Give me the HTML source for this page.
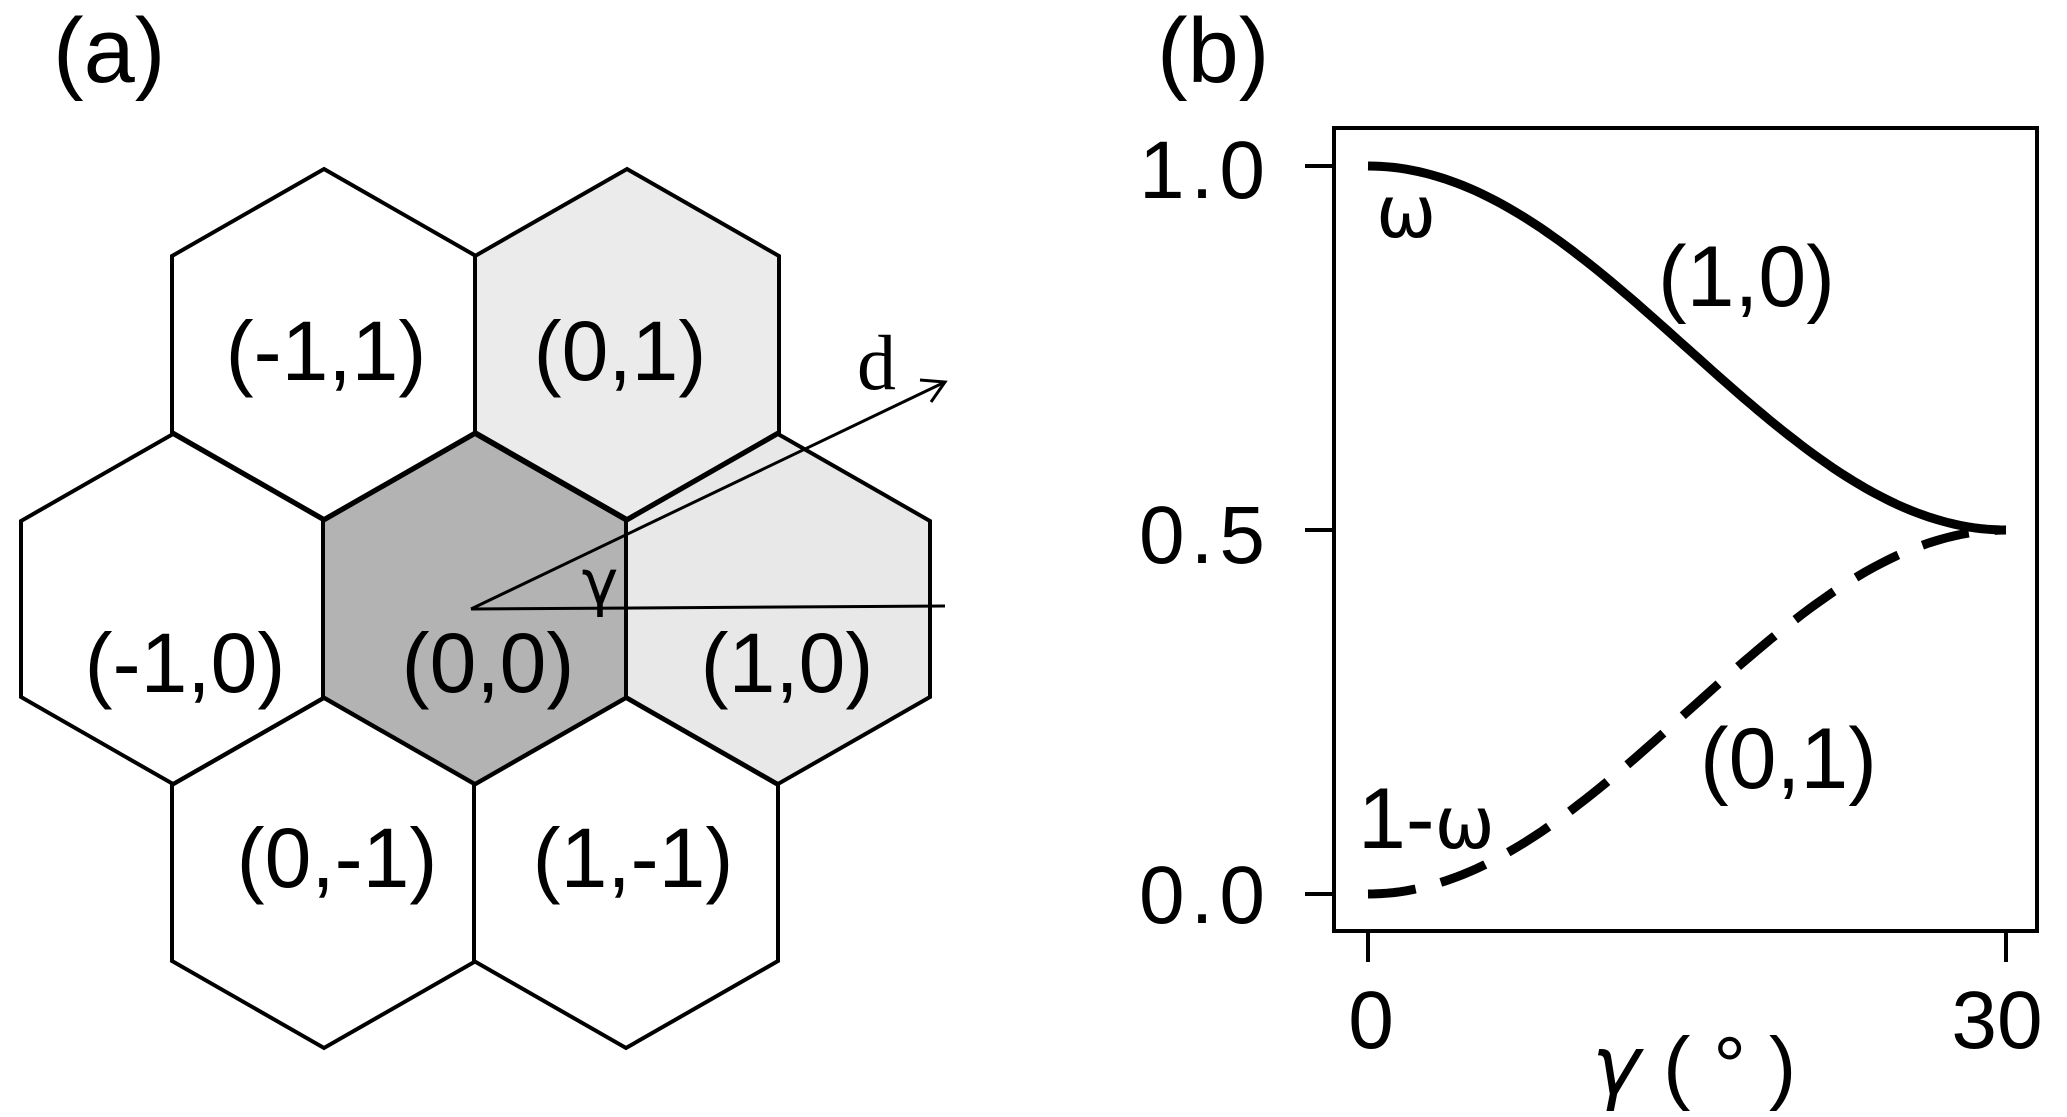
<!DOCTYPE html>
<html><head><meta charset="utf-8">
<style>html,body{margin:0;padding:0;background:#fff;}svg{display:block;}
text{font-family:"Liberation Sans",Arial,sans-serif;fill:#000;}</style></head>
<body>
<svg id="s" width="2067" height="1117" viewBox="0 0 2067 1117" xmlns="http://www.w3.org/2000/svg">
<g id="hex" stroke="#000" stroke-width="4" stroke-linejoin="miter"></g>
<g font-size="84" text-anchor="middle">
<text x="326" y="380">(-1,1)</text>
<text x="620" y="380">(0,1)</text>
<text x="185" y="692">(-1,0)</text>
<text x="488" y="692">(0,0)</text>
<text x="787" y="692">(1,0)</text>
<text x="337" y="887">(0,-1)</text>
<text x="633" y="887">(1,-1)</text>
</g>
<text x="53" y="82" font-size="92">(a)</text>
<g stroke="#000" stroke-width="3" fill="none">
<line x1="471" y1="609" x2="945" y2="606"/>
<line x1="471" y1="609" x2="945" y2="382"/>
<polyline points="920,380 945,382 931,402"/>
</g>
<text x="857" y="389" font-size="78" style="font-family:'Liberation Serif',serif">d</text>
<text x="600" y="604" font-size="62" text-anchor="middle" style="font-family:'DejaVu Sans',sans-serif">γ</text>

<text x="1157" y="82" font-size="92">(b)</text>
<rect x="1334" y="128" width="703" height="803" fill="none" stroke="#000" stroke-width="4"/>
<g stroke="#000" stroke-width="4">
<line x1="1305" y1="166" x2="1334" y2="166"/>
<line x1="1305" y1="530" x2="1334" y2="530"/>
<line x1="1305" y1="894" x2="1334" y2="894"/>
<line x1="1368" y1="931" x2="1368" y2="962"/>
<line x1="2006" y1="931" x2="2006" y2="962"/>
</g>
<g font-size="82" text-anchor="end" letter-spacing="6">
<text x="1271" y="198">1.0</text>
<text x="1271" y="563">0.5</text>
<text x="1271" y="923">0.0</text>
</g>
<g font-size="82" text-anchor="middle">
<text x="1371" y="1048">0</text>
<text x="1997" y="1048">30</text>
</g>
<text x="1694" y="1094" font-size="82" text-anchor="middle"><tspan font-style="italic" style="font-family:'DejaVu Sans',sans-serif">γ</tspan> ( ° )</text>
<path id="c1" fill="none" stroke="#000" stroke-width="9"/>
<path id="c2" fill="none" stroke="#000" stroke-width="9" stroke-dasharray="48,26"/>
<g font-size="86">
<text x="1376" y="237" style="font-family:'DejaVu Sans',sans-serif" font-size="72">ω</text>
<text x="1658" y="306">(1,0)</text>
<text x="1700" y="788">(0,1)</text>
<text x="1358" y="848">1-<tspan style="font-family:'DejaVu Sans',sans-serif" font-size="72">ω</tspan></text>
</g>
</svg>
<script>
var g=document.getElementById('hex');
var cells=[[324,344,'#fff'],[627,344,'#ebebeb'],[173,609,'#fff'],[475,609,'#b3b3b3'],[778,609,'#e8e8e8'],[324,873,'#fff'],[626,873,'#fff']];
cells.forEach(function(c){var x=c[0],y=c[1],w=152,r=175,s=88;
var p=[[x,y-r],[x+w,y-s],[x+w,y+s],[x,y+r],[x-w,y+s],[x-w,y-s]].map(function(q){return q.join(',')}).join(' ');
var e=document.createElementNS('http://www.w3.org/2000/svg','polygon');e.setAttribute('points',p);e.setAttribute('fill',c[2]);g.appendChild(e);});
function Y(v){return 894-(894-166)*v;}
var a='',b='';for(var i=0;i<=100;i++){var t=i/100,x=1368+(2006-1368)*t;
var w=0.75+0.25*Math.cos(Math.PI*t);a+=(i?'L':'M')+x.toFixed(1)+','+Y(w).toFixed(1);
b+=(i?'L':'M')+x.toFixed(1)+','+Y(1-w).toFixed(1);}
document.getElementById('c1').setAttribute('d',a);document.getElementById('c2').setAttribute('d',b);
</script>
</body></html>
